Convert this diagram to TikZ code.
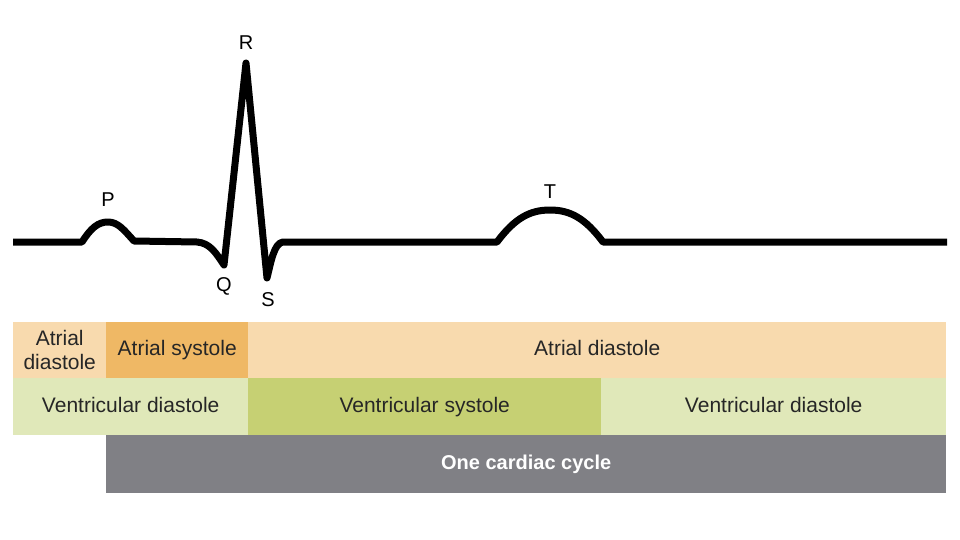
\documentclass[tikz,border=0pt]{standalone}
\usepackage{fontspec}
\setmainfont{Liberation Sans}
\usepackage{xcolor}
\usetikzlibrary{positioning}
\definecolor{AtrDiastole}{RGB}{248, 218, 174}
\definecolor{AtrSystole}{RGB}{239, 184, 101}
\definecolor{VenDiastole}{RGB}{224, 232, 185}
\definecolor{VenSystole}{RGB}{198, 208, 115}
\definecolor{CycleGray}{RGB}{128, 128, 133}
\tikzset{
	bar/.style={anchor=north west, inner sep=0pt, align=center,
		font=\fontsize{21}{24}\selectfont, text=black!85},
	oneline/.style={text height=15pt, text depth=4pt},
	wavelbl/.style={font=\fontsize{20}{20}\selectfont, inner sep=0pt},
	ecg/.style={line width=7pt, line join=round, black},
}

\begin{document}
\begin{tikzpicture}[x=1pt,y=-1pt]
	\useasboundingbox[fill=white] (0,0) rectangle (960,540);

	% the trace
	\draw[ecg] (13,242) -- (82,242)
		.. controls (91,228) and (98,222) .. (108,222)
		.. controls (118,222) and (124,230) .. (134,241)
		-- (197,242) .. controls (210,243) and (216,253) .. (224,265)
		-- (246,63) -- (267,278)
		.. controls (271,262) and (274,243) .. (283,242)
		-- (497,242) .. controls (515,218) and (530,210) .. (550,210)
		.. controls (570,210) and (585,218) .. (603,242) -- (947,242);

	\node[wavelbl] (P) at (108,200) {P};
	\node[wavelbl] (Q) at (224,286) {Q};
	\node[wavelbl] (R) at (246,43) {R};
	\node[wavelbl] (S) at (268,300) {S};
	\node[wavelbl] (T) at (550,192) {T};

	% atria
	\node[bar, fill=AtrDiastole, minimum width=93pt, minimum height=56pt] (atrdia1) at (13,322) {Atrial\\diastole};
	\node[bar, oneline, fill=AtrSystole, minimum width=142pt, minimum height=56pt] (atrsys) at (106,322) {Atrial systole};
	\node[bar, oneline, fill=AtrDiastole, minimum width=698pt, minimum height=56pt] (atrdia2) at (248,322) {Atrial diastole};

	% ventricles
	\node[bar, oneline, fill=VenDiastole, minimum width=235pt, minimum height=57pt] (vendia1) at (13,378) {Ventricular diastole};
	\node[bar, oneline, fill=VenSystole, minimum width=353pt, minimum height=57pt] (vensys) at (248,378) {Ventricular systole};
	\node[bar, oneline, fill=VenDiastole, minimum width=345pt, minimum height=57pt] (vendia2) at (601,378) {Ventricular diastole};

	\node[bar, oneline, fill=CycleGray, minimum width=840pt, minimum height=58pt, text=white, font=\fontsize{20}{24}\selectfont\bfseries] (cycle) at (106,435) {One cardiac cycle};
\end{tikzpicture}
\end{document}
